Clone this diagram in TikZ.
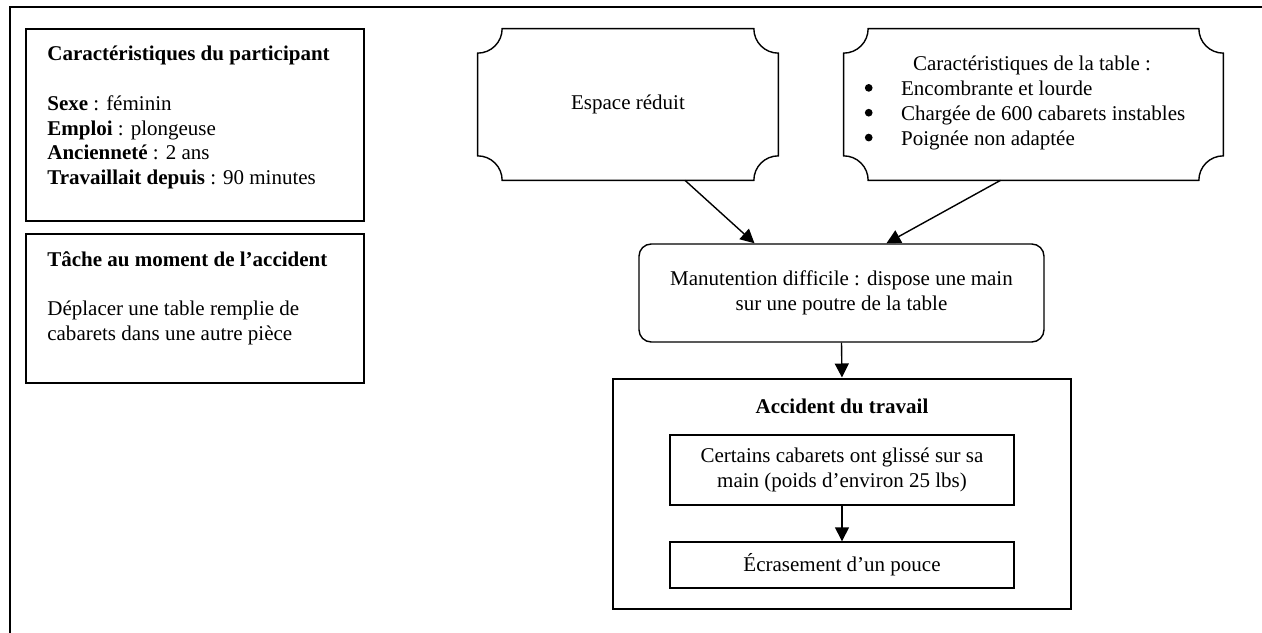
\documentclass[tikz,border=0pt]{standalone}
\usepackage{fontspec}
\setmainfont{Liberation Serif}
\usetikzlibrary{arrows.meta,calc}
\newlength\pxu
\setlength\pxu{0.5714pt}
% outline with concave quarter-circle corners around a node
\newcommand\plaqueoutline[2]{%
  \draw[line width=0.8pt]
    ([xshift=#2]#1.north west) -- ([xshift=-#2]#1.north east)
    arc[start angle=180,end angle=270,radius=#2]
    -- ([yshift=#2]#1.south east)
    arc[start angle=90,end angle=180,radius=#2]
    -- ([xshift=#2]#1.south west)
    arc[start angle=0,end angle=90,radius=#2]
    -- ([yshift=-#2]#1.north west)
    arc[start angle=270,end angle=360,radius=#2]
    -- cycle;}
% list bullet
\newcommand\listdot{\makebox[21pt][l]{\hspace{0.3pt}\raisebox{2.4pt}{\tikz\fill (0,0) circle (2.2pt);}}}
\begin{document}
\begin{tikzpicture}[x=0.5714pt,y=-0.5714pt,
  font=\fontsize{12pt}{14.2pt}\selectfont,
  framestyle/.style={line width=1.1pt},
  infobox/.style={draw,line width=0.9pt,inner sep=0pt},
  plaque/.style={draw=none,inner sep=0pt,align=center},
  roundbox/.style={draw,line width=0.8pt,rounded corners=7pt,inner sep=0pt,align=center},
  accbox/.style={draw,line width=1.7pt,inner sep=0pt},
  plainbox/.style={draw,line width=0.8pt,inner sep=0pt,align=center},
  textblock/.style={inner sep=0pt,align=left,anchor=north west},
  arrow/.style={line width=0.8pt,-{Triangle[length=8pt,width=8pt]}}]
\useasboundingbox (0,0) rectangle (1262,633);

% open frame: left and top edges
\coordinate (frameBL) at (10,660);
\coordinate (frameTR) at (1290,7);
\draw[framestyle] (frameBL) |- (frameTR);

% participant panel
\node[infobox,minimum width=338*\pxu,minimum height=192*\pxu] (part) at (195,125) {};
\node[textblock] (parttext) at (47,46)
  {\textbf{Caractéristiques du participant}\\[14pt]
   \textbf{Sexe} : féminin\\
   \textbf{Emploi} : plongeuse\\
   \textbf{Ancienneté} : 2 ans\\
   \textbf{Travaillait depuis} : 90 minutes};

% task panel
\node[infobox,minimum width=338*\pxu,minimum height=149*\pxu] (task) at (195,308.5) {};
\node[textblock] (tasktext) at (47,251)
  {\textbf{Tâche au moment de l’accident}\\[14pt]
   Déplacer une table remplie de\\
   cabarets dans une autre pièce};

% cause panels
\node[plaque,minimum width=300*\pxu,minimum height=151*\pxu] (espace) at (628,104.5) {Espace réduit};
\plaqueoutline{espace}{14pt}

\node[plaque,minimum width=379*\pxu,minimum height=151*\pxu] (table) at (1033.5,104.5) {};
\plaqueoutline{table}{14pt}
\node[inner sep=0pt,anchor=base] (tablehead) at (1032,71) {Caractéristiques de la table :};
\node[textblock] (tablelist) at (864,81)
  {\listdot Encombrante et lourde\\
   \listdot Chargée de 600 cabarets instables\\
   \listdot Poignée non adaptée};

% handling
\node[roundbox,minimum width=405*\pxu,minimum height=98*\pxu] (manut) at (841.5,293)
  {Manutention difficile : dispose une main\\sur une poutre de la table};

% accident
\node[accbox,minimum width=458*\pxu,minimum height=230*\pxu] (accident) at (842,494) {};
\node[inner sep=0pt,anchor=base] (acctitle) at (842,413) {\textbf{Accident du travail}};
\node[plainbox,minimum width=344*\pxu,minimum height=70*\pxu] (slip) at (842,470)
  {Certains cabarets ont glissé sur sa\\main (poids d’environ 25 lbs)};
\node[plainbox,minimum width=344*\pxu,minimum height=46*\pxu] (crush) at (842,565)
  {Écrasement d’un pouce};

% connectors
\draw[arrow] ($(espace.south)+(57,0)$) -- ($(manut.north)+(-87,0)$);
\draw[arrow] ($(table.south)+(-33,0)$) -- ($(manut.north)+(45,0)$);
\draw[arrow] (manut.south) -- (accident.north);
\draw[arrow] (slip.south) -- (crush.north);
\end{tikzpicture}
\end{document}
